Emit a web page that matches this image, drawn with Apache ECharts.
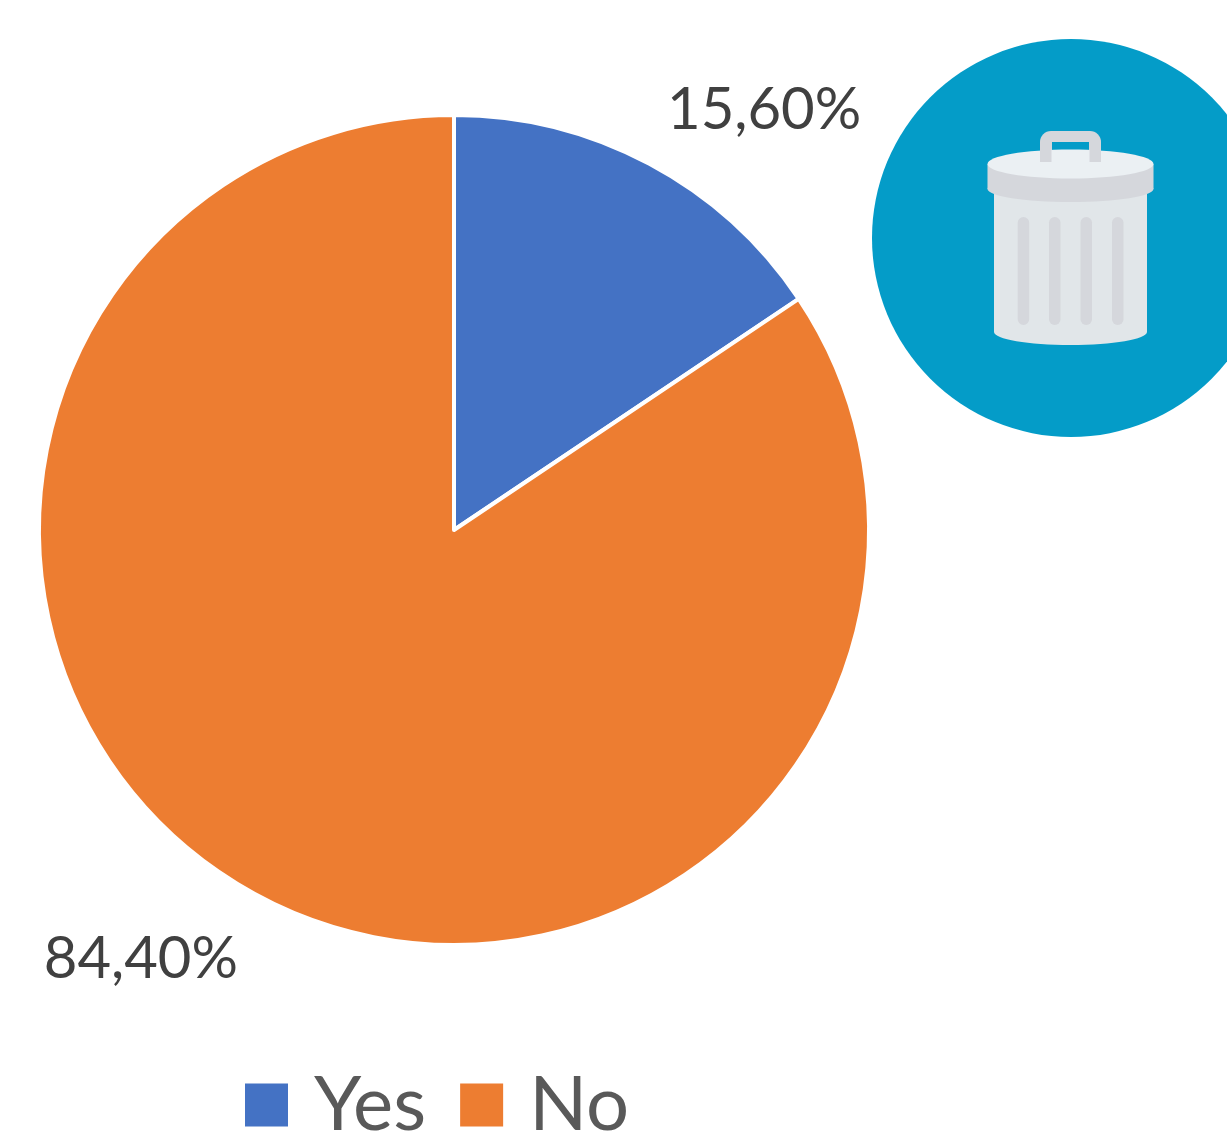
<!DOCTYPE html>
<html>
<head>
<meta charset="utf-8">
<style>html,body{margin:0;padding:0;background:#fff}#c{width:1227px;height:1133px}</style>
<script src="https://cdn.jsdelivr.net/npm/echarts@6/dist/echarts.min.js"></script>
</head>
<body>
<div id="c"></div>
<script>
const categories = ['Yes', 'No'];
const shares = [15.6, 84.4];
const sliceColors = ['#4472C4', '#ED7D31'];
const shareLabels = ['15,60%', '84,40%'];

const chart = echarts.init(document.getElementById('c'), null, {renderer: 'canvas'});
const font = 'Lato, "Open Sans", sans-serif';

// Rubbish bin badge, drawn as plain shapes beside the pie
const teal = '#049CC8', shade = '#D5D7DC', body = '#E1E6E9', lid = '#EBF0F3';
const cx = 1070.5;
const bar = x => ({type: 'rect', shape: {x: x, y: 217, width: 11.5, height: 108, r: 5.7}, style: {fill: shade}});
const bin = [
  {type: 'circle', shape: {cx: 1071, cy: 238, r: 199}, style: {fill: teal}},
  {type: 'rect', shape: {x: 1040, y: 131, width: 61, height: 31, r: [11, 11, 0, 0]}, style: {fill: shade}},
  {type: 'rect', shape: {x: 1052, y: 142, width: 37, height: 20}, style: {fill: teal}},
  {type: 'rect', shape: {x: cx - 76.5, y: 190, width: 153, height: 142}, style: {fill: body}},
  {type: 'ellipse', shape: {cx: cx, cy: 332, rx: 76.5, ry: 13}, style: {fill: body}},
  bar(1017.7), bar(1049), bar(1080.5), bar(1112),
  {type: 'ellipse', shape: {cx: cx, cy: 189, rx: 83, ry: 13}, style: {fill: shade}},
  {type: 'rect', shape: {x: cx - 83, y: 164, width: 166, height: 25}, style: {fill: shade}},
  {type: 'ellipse', shape: {cx: cx, cy: 164, rx: 83, ry: 14.5}, style: {fill: lid}},
  {type: 'rect', shape: {x: 1040, y: 148, width: 11.5, height: 14}, style: {fill: shade}},
  {type: 'rect', shape: {x: 1089.5, y: 148, width: 11.5, height: 14}, style: {fill: shade}}
];

chart.setOption({
  animation: false,
  backgroundColor: '#ffffff',
  legend: {
    data: categories,
    left: 245,
    top: 1067,
    padding: 0,
    itemWidth: 43,
    itemHeight: 43,
    itemGap: 34,
    icon: 'rect',
    itemStyle: {borderWidth: 0},
    textStyle: {fontFamily: font, fontSize: 76, color: '#595959', padding: [0, 0, 4, 21]}
  },
  series: [{
    type: 'pie',
    center: [454, 530],
    radius: [0, 415],
    startAngle: 90,
    clockwise: true,
    data: categories.map((name, i) => ({
      name: name,
      value: shares[i],
      itemStyle: {color: sliceColors[i], borderColor: '#ffffff', borderWidth: 4},
      label: {
        show: true,
        position: 'outside',
        formatter: shareLabels[i],
        fontFamily: font,
        fontSize: 58,
        letterSpacing: -1,
        color: '#404040'
      },
      labelLine: {show: false}
    })),
    labelLayout: function (params) {
      return params.dataIndex === 0 ? {x: 667, y: 110} : {x: 238, y: 959};
    }
  }],
  graphic: {elements: bin}
});
</script>
</body>
</html>
